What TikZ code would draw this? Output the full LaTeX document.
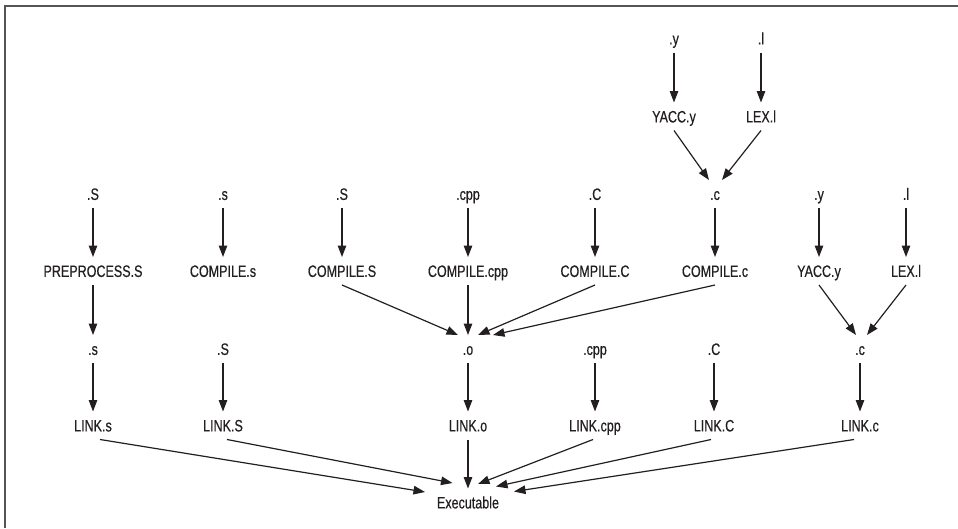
\documentclass[tikz,border=0pt]{standalone}
\usepackage{fontspec}
\setmainfont[FakeStretch=0.76,FakeBold=0.5]{Liberation Sans}
\usetikzlibrary{arrows.meta}
\definecolor{ink}{HTML}{231F20}
\definecolor{framegray}{HTML}{555555}
\begin{document}
\begin{tikzpicture}[x=1pt,y=-1pt,
  lbl/.style={inner sep=0pt, outer sep=0pt, minimum height=28pt,
    text height=11.8pt, text depth=0pt,
    font=\fontsize{16.5}{18}\selectfont, text=ink},
  arr/.style={draw=ink, line width=1.2pt, -{Triangle[length=11.5pt,width=8.5pt]}},
  frameline/.style={draw=framegray, line width=2pt}]
\useasboundingbox (0,0) rectangle (958,528);
\draw[frameline] (4.5,528) -- (4.5,6) -- (958,6);

% top group
\node[lbl] (ty)    at (674,38.5)  {.y};
\node[lbl] (tl)    at (761,38.5)  {.l};
\node[lbl] (tyacc) at (674,116.5) {YACC.y};
\node[lbl] (tlex)  at (761,116.5) {LEX.l};

% row 3
\node[lbl] (s1) at (93,194)  {.S};
\node[lbl] (s2) at (223,194) {.s};
\node[lbl] (s3) at (342,194) {.S};
\node[lbl] (s4) at (468,194) {.cpp};
\node[lbl] (s5) at (595,194) {.C};
\node[lbl] (s6) at (715,194) {.c};
\node[lbl] (s7) at (819,194) {.y};
\node[lbl] (s8) at (906,194) {.l};

% row 4
\node[lbl] (pre)   at (93,271)  {PREPROCESS.S};
\node[lbl] (cs)    at (223,271) {COMPILE.s};
\node[lbl] (cS)    at (342,271) {COMPILE.S};
\node[lbl] (ccpp)  at (468,271) {COMPILE.cpp};
\node[lbl] (cC)    at (595,271) {COMPILE.C};
\node[lbl] (cc)    at (715,271) {COMPILE.c};
\node[lbl] (yacc2) at (819,271) {YACC.y};
\node[lbl] (lex2)  at (906,271) {LEX.l};

% row 5
\node[lbl] (os)   at (93,349)  {.s};
\node[lbl] (oS)   at (223,349) {.S};
\node[lbl] (o)    at (468,349) {.o};
\node[lbl] (ocpp) at (595,349) {.cpp};
\node[lbl] (oC)   at (714,349) {.C};
\node[lbl] (oc)   at (860,349) {.c};

% row 6
\node[lbl] (Ls)   at (93,425.5)  {LINK.s};
\node[lbl] (LS)   at (223,425.5) {LINK.S};
\node[lbl] (Lo)   at (468,425.5) {LINK.o};
\node[lbl] (Lcpp) at (595,425.5) {LINK.cpp};
\node[lbl] (LC)   at (714,425.5) {LINK.C};
\node[lbl] (Lc)   at (860,425.5) {LINK.c};

% row 7
\node[lbl] (exe) at (468,502.5) {Executable};

% top group arrows
\draw[arr] (ty) -- (tyacc);
\draw[arr] (tl) -- (tlex);
\draw[arr] (tyacc.south) -- ([xshift=-6pt]s6.north);
\draw[arr] (tlex.south) -- ([xshift=7pt]s6.north);

% row 3 -> row 4
\draw[arr] (s1) -- (pre);
\draw[arr] (s2) -- (cs);
\draw[arr] (s3) -- (cS);
\draw[arr] (s4) -- (ccpp);
\draw[arr] (s5) -- (cC);
\draw[arr] (s6) -- (cc);
\draw[arr] (s7) -- (yacc2);
\draw[arr] (s8) -- (lex2);

% row 4 -> row 5
\draw[arr] (pre) -- (os);
\draw[arr] (cS.south) -- ([xshift=-10pt]o.north);
\draw[arr] (ccpp) -- (o);
\draw[arr] (cC.south) -- ([xshift=10pt]o.north);
\draw[arr] (cc.south) -- ([xshift=25pt]o.north);
\draw[arr] (yacc2.south) -- ([xshift=-4pt]oc.north);
\draw[arr] (lex2.south) -- ([xshift=7pt]oc.north);

% row 5 -> row 6
\draw[arr] (os) -- (Ls);
\draw[arr] (oS) -- (LS);
\draw[arr] (o) -- (Lo);
\draw[arr] (ocpp) -- (Lcpp);
\draw[arr] (oC) -- (LC);
\draw[arr] (oc) -- (Lc);

% row 6 -> Executable
\draw[arr] ([xshift=7pt]Ls.south) -- ([shift={(-43,-10.5)}]exe.center);
\draw[arr] ([xshift=4pt]LS.south) -- ([shift={(-15.5,-19.5)}]exe.center);
\draw[arr] (Lo) -- (exe);
\draw[arr] ([xshift=-2pt]Lcpp.south) -- ([shift={(10,-18.5)}]exe.center);
\draw[arr] ([xshift=-3pt]LC.south) -- ([shift={(28,-16)}]exe.center);
\draw[arr] ([xshift=-6pt]Lc.south) -- ([shift={(46,-11)}]exe.center);
\end{tikzpicture}
\end{document}
